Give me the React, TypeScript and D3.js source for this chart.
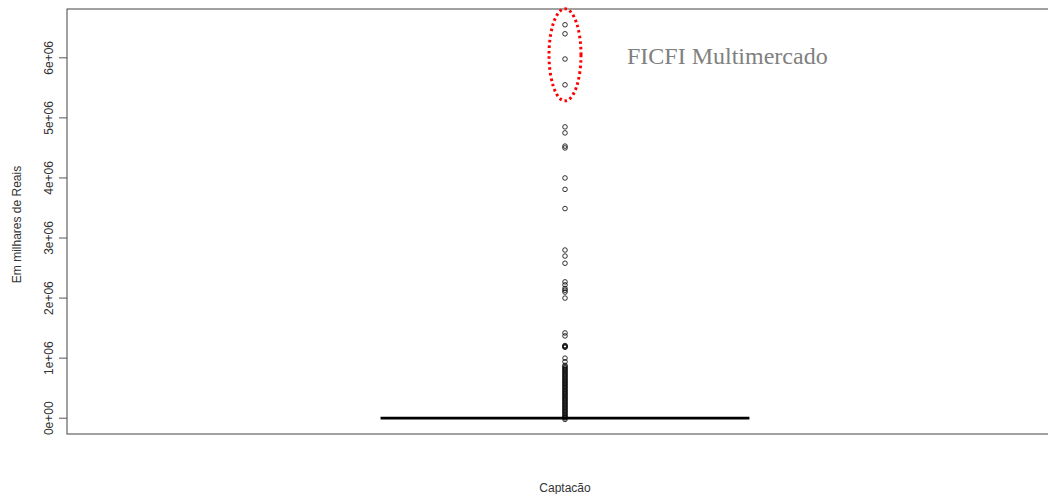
import React from "react";
import * as d3 from "d3";

const yTicks = [0, 1e6, 2e6, 3e6, 4e6, 5e6, 6e6];
const yTickLabels = ["0e+00", "1e+06", "2e+06", "3e+06", "4e+06", "5e+06", "6e+06"];
const category = "Captacão";
const medianValue = 0;
const q1Value = 0;
const q3Value = 0;
const outliers = [
  6550000, 6400000, 5980000, 5550000, 4850000, 4750000, 4530000, 4500000,
  4000000, 3810000, 3490000, 2800000, 2700000, 2580000, 2270000, 2220000,
  2160000, 2130000, 2100000, 2000000, 1420000, 1370000, 1210000, 1200000,
  1190000, 1180000, 1000000, 940000, 880000, 860000, 840000, 820000, 800000,
  780000, 760000, 740000, 720000, 700000, 680000, 660000, 640000, 620000,
  600000, 580000, 560000, 540000, 520000, 500000, 480000, 460000, 440000,
  420000, 400000, 380000, 360000, 340000, 320000, 300000, 280000, 260000,
  240000, 220000, 200000, 180000, 160000, 140000, 120000, 100000, 80000,
  60000, 40000, 20000, 5000, -20000,
];
const highlightedTop = [6550000, 6400000, 5980000, 5550000];
const annotation = "FICFI Multimercado";
const yTitle = "Em milhares de Reais";

export default function App() {
  const W = 1048;
  const H = 494;
  const left = 67;
  const right = 1063;
  const top = 9;
  const bottom = 434;

  const dataMin = Math.min(...outliers, 0);
  const dataMax = Math.max(...outliers);
  const pad = (dataMax - dataMin) * 0.04;
  const y = d3.scaleLinear().domain([dataMin - pad + 20000, dataMax + pad]).range([bottom, top]);
  const x = d3.scaleLinear().domain([0.46, 1.54]).range([left, right]);
  const cx = x(1);
  const halfW = x(1.2) - x(1);

  const hTop = y(d3.max(highlightedTop) as number);
  const hBot = y(d3.min(highlightedTop) as number);
  const ellCy = (hTop + hBot) / 2;
  const ellRy = (hBot - hTop) / 2 + 16;

  const sans = "'Liberation Sans', Arial, sans-serif";

  return (
    <svg
      width={W}
      height={H}
      style={{ position: "fixed", left: 0, top: 0, background: "#fff" }}
    >
      <rect x={0} y={0} width={W} height={H} fill="#fff" />
      <rect
        x={left}
        y={top}
        width={right - left}
        height={bottom - top}
        fill="none"
        stroke="#444"
        strokeWidth={1}
      />
      {yTicks.map((t, i) => (
        <g key={t}>
          <line x1={left - 8} x2={left} y1={y(t)} y2={y(t)} stroke="#555" strokeWidth={1} />
          <text
            transform={`translate(52.5,${y(t)}) rotate(-90)`}
            textAnchor="middle"
            fontFamily={sans}
            fontSize={12}
            fill="#333"
          >
            {yTickLabels[i]}
          </text>
        </g>
      ))}
      <text
        transform={`translate(20.5,${(top + bottom) / 2 + 3}) rotate(-90)`}
        textAnchor="middle"
        fontFamily={sans}
        fontSize={12}
        fill="#333"
      >
        {yTitle}
      </text>
      <text x={cx} y={492} textAnchor="middle" fontFamily={sans} fontSize={12} fill="#333">
        {category}
      </text>
      <rect
        x={cx - halfW}
        y={y(q3Value)}
        width={halfW * 2}
        height={Math.max(0, y(q1Value) - y(q3Value))}
        fill="none"
        stroke="#000"
        strokeWidth={1}
      />
      <line
        x1={cx - halfW}
        x2={cx + halfW}
        y1={y(medianValue)}
        y2={y(medianValue)}
        stroke="#000"
        strokeWidth={2.8}
      />
      {outliers.map((v, i) => (
        <circle key={i} cx={cx} cy={y(v)} r={2.3} fill="none" stroke="#000" strokeWidth={0.8} />
      ))}
      <ellipse
        cx={cx}
        cy={ellCy}
        rx={16}
        ry={ellRy}
        fill="none"
        stroke="#ff0000"
        strokeWidth={3}
        strokeDasharray="2.5 3"
      />
      <text
        x={627}
        y={64}
        fontFamily="'Liberation Serif', 'Times New Roman', serif"
        fontSize={24}
        fill="#808080"
      >
        {annotation}
      </text>
    </svg>
  );
}
